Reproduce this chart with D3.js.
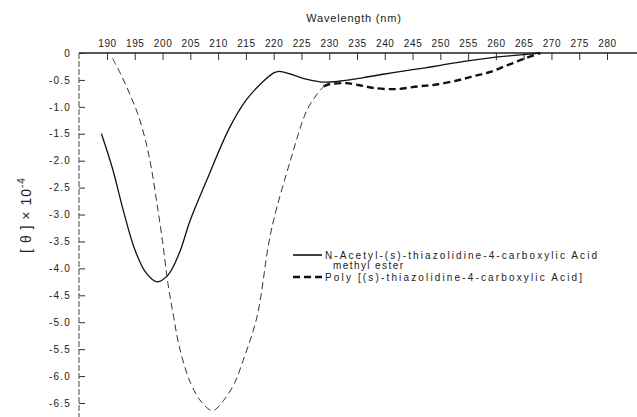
<!DOCTYPE html>
<html>
<head>
<meta charset="utf-8">
<script src="https://cdn.jsdelivr.net/npm/d3@7"></script>
<style>
  body { margin: 0; background: #fff; }
  text { font-family: "Liberation Sans", "DejaVu Sans", sans-serif; fill: #222; }
</style>
</head>
<body>
<div id="chart"></div>
<script>
/** Data */

// N-Acetyl-(s)-thiazolidine-4-carboxylic Acid methyl ester (solid line)
var esterWave = [189, 191, 193, 195, 197, 199, 201, 203, 205, 208, 212, 215, 218, 220, 221, 223, 226, 229, 232, 236, 240, 243, 247, 250, 254, 259, 264, 268];
var esterTheta = [-1.5, -2.15, -2.95, -3.65, -4.08, -4.25, -4.12, -3.72, -3.1, -2.35, -1.4, -0.88, -0.54, -0.37, -0.34, -0.39, -0.49, -0.54, -0.52, -0.46, -0.39, -0.34, -0.28, -0.23, -0.16, -0.09, -0.04, 0];

// Poly [(s)-thiazolidine-4-carboxylic Acid] (dashed line)
var polyWave = [191, 192.5, 194, 195.5, 197, 198, 199, 200, 201, 202, 203, 205, 207, 209, 211, 213, 214.5, 217, 219, 220, 223, 226, 228, 229, 230, 233, 236, 238, 242, 246, 249, 253, 256, 259, 262, 265, 268];
var polyTheta = [-0.1, -0.4, -0.74, -1.12, -1.65, -2.15, -2.8, -3.5, -4.3, -4.9, -5.45, -6.12, -6.48, -6.64, -6.45, -6.12, -5.71, -4.9, -3.6, -3.1, -2.0, -1.06, -0.74, -0.62, -0.58, -0.56, -0.61, -0.65, -0.67, -0.62, -0.59, -0.51, -0.43, -0.35, -0.23, -0.11, 0];

var xTicks = [190, 195, 200, 205, 210, 215, 220, 225, 230, 235, 240, 245, 250, 255, 260, 265, 270, 275, 280];
var yTicks = [0, -0.5, -1.0, -1.5, -2.0, -2.5, -3.0, -3.5, -4.0, -4.5, -5.0, -5.5, -6.0, -6.5];

var legendLabels = ["N-Acetyl-(s)-thiazolidine-4-carboxylic Acid", "methyl ester", "Poly [(s)-thiazolidine-4-carboxylic Acid]"];

var width = 637;
var height = 417;

var svg = d3.select("#chart")
  .append("svg")
    .attr("width", width)
    .attr("height", height);

// SCALES //
var x = d3.scaleLinear()
  .domain([190, 280])
  .range([107, 607]);

var y = d3.scaleLinear()
  .domain([0, -6.5])
  .range([53, 403]);

// X axis (labels above, ticks hanging down)
var xg = svg.append("g")
  .attr("transform", "translate(0," + y(0) + ")")
  .call(d3.axisTop(x).tickValues(xTicks).tickSize(-7).tickPadding(6).tickFormat(d3.format("d")));
xg.select(".domain").remove();
xg.selectAll("text").style("font-size", "10px").attr("letter-spacing", "0.6px");
xg.selectAll("line").attr("stroke", "#333");

svg.append("line")
  .attr("x1", 79).attr("x2", width)
  .attr("y1", y(0)).attr("y2", y(0))
  .attr("stroke", "#222")
  .attr("stroke-width", 1.5);

// Y axis (ticks pointing into the plot)
var yg = svg.append("g")
  .attr("transform", "translate(79,0)")
  .call(d3.axisLeft(y).tickValues(yTicks).tickSize(-6).tickPadding(8)
    .tickFormat(function(d) { return d === 0 ? "0" : d.toFixed(1); }));
yg.select(".domain").remove();
yg.selectAll("text").style("font-size", "10px").attr("letter-spacing", "1.2px");
yg.selectAll("line").attr("stroke", "#333");

svg.append("line")
  .attr("x1", 79).attr("x2", 79)
  .attr("y1", y(0)).attr("y2", height)
  .attr("stroke", "#444")
  .attr("stroke-width", 1)
  .attr("stroke-dasharray", "6,2");

// Axis titles
svg.append("text")
  .attr("x", 354)
  .attr("y", 22)
  .attr("text-anchor", "middle")
  .style("font-size", "11px")
  .attr("letter-spacing", "0.8px")
  .text("Wavelength (nm)");

var yTitle = svg.append("text")
  .attr("transform", "translate(31,215) rotate(-90)")
  .attr("text-anchor", "middle")
  .attr("letter-spacing", "1px")
  .style("font-size", "14px");
yTitle.append("tspan").text("[ θ ] × 10");
yTitle.append("tspan").attr("dy", "-6").style("font-size", "10px").text("-4");

// CURVES //
var ester = esterWave.map(function(w, i) { return { w: w, t: esterTheta[i] }; });
var poly = polyWave.map(function(w, i) { return { w: w, t: polyTheta[i] }; });

var line = d3.line()
  .curve(d3.curveCatmullRom.alpha(0.5))
  .x(function(d) { return x(d.w); })
  .y(function(d) { return y(d.t); });

svg.append("path")
  .datum(ester)
  .attr("fill", "none")
  .attr("stroke", "#111")
  .attr("stroke-width", 1.3)
  .attr("d", line);

// thin dashed part of the polymer curve
svg.append("path")
  .datum(poly.filter(function(d) { return d.w <= 229; }))
  .attr("fill", "none")
  .attr("stroke", "#333")
  .attr("stroke-width", 1)
  .attr("stroke-dasharray", "7,4")
  .attr("d", line);

// bold dashed tail
svg.append("path")
  .datum(poly.filter(function(d) { return d.w >= 229; }))
  .attr("fill", "none")
  .attr("stroke", "#111")
  .attr("stroke-width", 2.4)
  .attr("stroke-dasharray", "7,4")
  .attr("d", line);

// LEGEND //
var legend = svg.append("g");

legend.append("line")
  .attr("x1", 293).attr("x2", 322)
  .attr("y1", 255).attr("y2", 255)
  .attr("stroke", "#111")
  .attr("stroke-width", 1.6);

legend.append("text")
  .attr("x", 325).attr("y", 258.5)
  .attr("textLength", 272)
  .style("font-size", "10px")
  .text(legendLabels[0]);

legend.append("text")
  .attr("x", 333).attr("y", 269)
  .attr("textLength", 70)
  .style("font-size", "10px")
  .text(legendLabels[1]);

legend.append("line")
  .attr("x1", 293).attr("x2", 322)
  .attr("y1", 277).attr("y2", 277)
  .attr("stroke", "#111")
  .attr("stroke-width", 2.4)
  .attr("stroke-dasharray", "7,4");

legend.append("text")
  .attr("x", 325).attr("y", 281)
  .attr("textLength", 257)
  .style("font-size", "10px")
  .text(legendLabels[2]);
</script>
</body>
</html>
